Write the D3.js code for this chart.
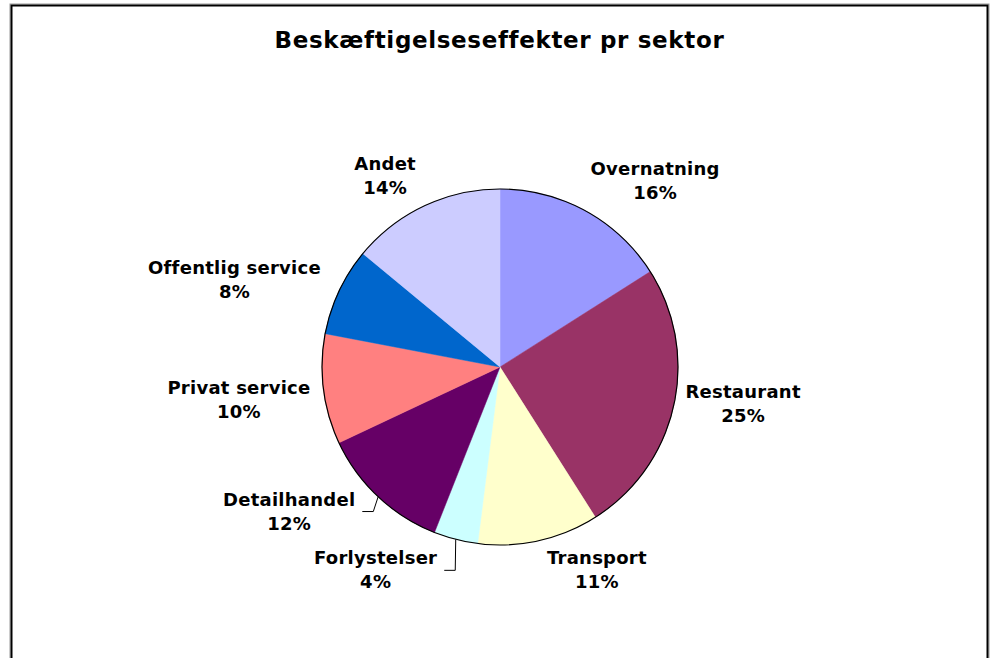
<!DOCTYPE html>
<html>
<head>
<meta charset="utf-8">
<script src="https://cdn.jsdelivr.net/npm/d3@7"></script>
<style>
  body { margin: 0; background: #fff; }
  svg { display: block; }
  .lbl { font-family: "DejaVu Sans", Verdana, sans-serif; font-weight: bold; font-size: 18px; letter-spacing: 0.25px; fill: #000; }
  .title { font-family: "DejaVu Sans", Verdana, sans-serif; font-weight: bold; font-size: 23px; letter-spacing: 0.65px; fill: #000; }
</style>
</head>
<body>
<svg></svg>
<script>
const width = 991;
const height = 658;

// data
const sectors = ["Overnatning", "Restaurant", "Transport", "Forlystelser", "Detailhandel", "Privat service", "Offentlig service", "Andet"];
const shares = [16, 25, 11, 4, 12, 10, 8, 14];
const sliceColors = ["#9999FF", "#993366", "#FFFFCC", "#CCFFFF", "#660066", "#FF8080", "#0066CC", "#CCCCFF"];

// small label shifts the way Excel placed them; moved ones get a leader line
const labelNudge = {
    "Restaurant": [2, -9], "Transport": [6, -4], "Privat service": [-3, 6],
    "Offentlig service": [-9, 3], "Andet": [-4, 1],
    "Detailhandel": [-16, -10], "Forlystelser": [-16, -2]
};
const withLeader = ["Detailhandel", "Forlystelser"];

const cx = 500, cy = 367, r = 178;

const svg = d3.select("svg")
    .attr("width", width)
    .attr("height", height);

// chart frame
svg.append("rect")
    .attr("x", 10).attr("y", 4)
    .attr("width", 979).attr("height", 720)
    .attr("fill", "none").attr("stroke", "#999").attr("stroke-width", 1);
svg.append("rect")
    .attr("x", 11.5).attr("y", 5.5)
    .attr("width", 976).attr("height", 720)
    .attr("fill", "#fff").attr("stroke", "#000").attr("stroke-width", 2);

svg.append("text")
    .attr("class", "title")
    .attr("x", 499.5).attr("y", 48)
    .attr("text-anchor", "middle")
    .text("Beskæftigelseseffekter pr sektor");

const color = d3.scaleOrdinal().domain(sectors).range(sliceColors);

const pie = d3.pie().sort(null).value(d => d.value);
const arcs = pie(sectors.map((s, i) => ({ name: s, value: shares[i] })));
const arc = d3.arc().innerRadius(0).outerRadius(r);

const g = svg.append("g").attr("transform", `translate(${cx},${cy})`);

g.selectAll("path.slice")
    .data(arcs)
    .enter().append("path")
    .attr("class", "slice")
    .attr("d", arc)
    .attr("fill", d => color(d.data.name))
    .attr("stroke", d => color(d.data.name))
    .attr("stroke-width", 0.5);

g.append("circle")
    .attr("r", r)
    .attr("fill", "none")
    .attr("stroke", "#000")
    .attr("stroke-width", 1.2);

// labels: box corner sits just outside the arc at the mid angle
const labelG = g.append("g");
const lineH = 24, boxH = 48;

arcs.forEach(d => {
    const a = (d.startAngle + d.endAngle) / 2;
    const sx = Math.sin(a), sy = -Math.cos(a);
    const ax = (r + 10) * sx, ay = (r + 10) * sy;

    const t = labelG.append("text")
        .attr("class", "lbl")
        .attr("text-anchor", "middle");
    const t1 = t.append("tspan").text(d.data.name);
    const t2 = t.append("tspan").text(d.data.value + "%");
    const w = Math.max(t1.node().getComputedTextLength(), t2.node().getComputedTextLength());

    let mx = sx >= 0 ? ax + w / 2 : ax - w / 2;
    let my = ay + sy * boxH / 2;
    const nudge = labelNudge[d.data.name];
    if (nudge) { mx += nudge[0]; my += nudge[1]; }

    t1.attr("x", mx).attr("y", my - 6);
    t2.attr("x", mx).attr("y", my - 6 + lineH);

    if (withLeader.includes(d.data.name)) {
        const px = r * sx, py = r * sy;
        const right = mx + w / 2;
        labelG.append("polyline")
            .attr("points", [[px, py], [right + 18, my], [right + 7, my]].map(p => p.join(",")).join(" "))
            .attr("fill", "none")
            .attr("stroke", "#000")
            .attr("stroke-width", 1);
    }
});
</script>
</body>
</html>
